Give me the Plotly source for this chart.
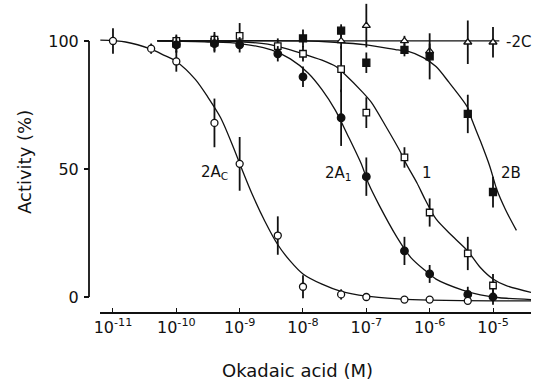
import plotly.graph_objects as go

# ---------------- data ----------------
# Okadaic acid concentration (M)
conc_2Ac = [1e-11, 4e-11, 1e-10, 4e-10, 1e-9, 4e-9, 1e-8, 4e-8, 1e-7, 4e-7, 1e-6, 4e-6]
act_2Ac = [100, 97, 92, 68, 52, 24, 4, 1, 0, -1, -1, -1.5]
err_2Ac = [5, 2, 4, 9.5, 10.5, 7.5, 4.5, 2, 0, 0, 0, 0]

conc_2A1 = [1e-10, 4e-10, 1e-9, 4e-9, 1e-8, 4e-8, 1e-7, 4e-7, 1e-6, 4e-6, 1e-5]
act_2A1 = [98.5, 99, 98.5, 95, 86, 70, 47, 18, 9, 1, 0]
err_2A1 = [3, 3, 3, 3, 4, 11, 7.5, 5.5, 3.5, 3, 3]

conc_1 = [1e-10, 4e-10, 1e-9, 4e-9, 1e-8, 4e-8, 1e-7, 4e-7, 1e-6, 4e-6, 1e-5]
act_1 = [100, 100.5, 102, 98, 95, 89, 72, 54.5, 33, 17, 4.5]
err_1 = [2, 2, 5, 3, 3, 9, 6, 4, 5.5, 6.5, 4.5]

conc_2B = [1e-10, 4e-10, 1e-8, 4e-8, 1e-7, 4e-7, 1e-6, 4e-6, 1e-5]
act_2B = [99, 99.5, 101, 104, 91.5, 96.5, 94, 71.5, 41]
err_2B = [3.5, 4, 3.5, 2.5, 4, 2.5, 9, 7.5, 6]

conc_2C = [4e-8, 1e-7, 4e-7, 1e-6, 4e-6, 1e-5]
act_2C = [100, 106, 100, 96, 99.5, 99.5]
err_2C = [3, 8.5, 2, 3, 8.5, 6]

# fitted curves as drawn (log10 M, activity %)
curve_2Ac_logM = [-11.2, -10.8, -10.4, -10.2, -10.0, -9.7, -9.5, -9.3, -9.1, -8.95, -8.8, -8.6,
                  -8.4, -8.2, -8.0, -7.7, -7.4, -7.0, -6.5, -6.0, -5.0, -4.4]
curve_2Ac_act = [100.3, 99.6, 96.8, 94.5, 92, 85, 78, 70, 58.5, 49, 40, 29.5,
                 20.5, 14, 9, 5, 2.2, 0.3, -0.7, -1.2, -1.5, -1.5]

curve_2A1_logM = [-10.3, -9.5, -9.0, -8.5, -8.2, -7.92, -7.7, -7.49, -7.3, -7.08, -6.96, -6.8,
                  -6.52, -6.3, -6.08, -5.9, -5.48, -5.2, -4.9, -4.4]
curve_2A1_act = [100, 99.6, 99, 96.5, 93, 87.5, 81, 73, 63.5, 52, 44, 36,
                 23.5, 15.5, 10.5, 7, 2.7, 0.8, -0.3, -1]

curve_1_logM = [-10.3, -9.0, -8.5, -8.0, -7.7, -7.48, -7.34, -7.06, -6.92, -6.7, -6.48, -6.37,
                -6.2, -6.07, -5.9, -5.65, -5.4, -5.2, -5.0, -4.8, -4.4]
curve_1_act = [100, 99.7, 98.5, 95, 92.5, 90, 87, 80, 76, 67, 57.5, 52,
               44.5, 38, 30.5, 24, 18, 11.5, 7, 4.5, 1.8]

curve_2B_logM = [-10.3, -8.0, -7.5, -7.0, -6.5, -6.35, -6.1, -5.9, -5.7, -5.4, -5.33, -5.2,
                 -5.05, -4.94, -4.8, -4.63]
curve_2B_act = [100, 100, 99.5, 98.5, 96.5, 96, 93.5, 90, 84, 74, 69, 61,
                51, 42, 34, 26]

curve_2C_logM = [-10.3, -4.9]
curve_2C_act = [100, 100]

x_tick_vals = [1e-11, 1e-10, 1e-9, 1e-8, 1e-7, 1e-6, 1e-5]
x_tick_text = ["10<sup>-11</sup>", "10<sup>-10</sup>", "10<sup>-9</sup>", "10<sup>-8</sup>",
               "10<sup>-7</sup>", "10<sup>-6</sup>", "10<sup>-5</sup>"]
y_tick_vals = [0, 50, 100]
y_tick_text = ["0", "50", "100"]

# ---------------- figure ----------------
W, H = 536, 381
ML, MR, MT, MB = 89, 5, 0, 69
PW, PH = W - ML - MR, H - MT - MB
FONT = "DejaVu Sans"
INK = "#111111"


def px(xp, yp):
    return (xp - ML) / PW, (H - MB - yp) / PH


fig = go.Figure()

for lx, ly in [(curve_2Ac_logM, curve_2Ac_act), (curve_2A1_logM, curve_2A1_act),
               (curve_1_logM, curve_1_act), (curve_2B_logM, curve_2B_act),
               (curve_2C_logM, curve_2C_act)]:
    fig.add_trace(go.Scatter(
        x=[10 ** v for v in lx], y=ly, mode="lines",
        line=dict(color=INK, width=1.3, shape="spline", smoothing=0.8),
        hoverinfo="skip", showlegend=False))

series = [
    ("2C", conc_2C, act_2C, err_2C, "triangle-up", "white", 7),
    ("2B", conc_2B, act_2B, err_2B, "square", INK, 7),
    ("1", conc_1, act_1, err_1, "square", "white", 6.5),
    ("2A1", conc_2A1, act_2A1, err_2A1, "circle", INK, 7.5),
    ("2Ac", conc_2Ac, act_2Ac, err_2Ac, "circle", "white", 7),
]
for name, cx, cy, ce, sym, fill, size in series:
    fig.add_trace(go.Scatter(
        x=cx, y=cy, mode="markers", name=name,
        marker=dict(symbol=sym, size=size, color=fill, line=dict(color=INK, width=1.3)),
        error_y=dict(type="data", array=ce, visible=True, color=INK, thickness=1.8, width=0),
        showlegend=False))

fig.update_layout(
    width=W, height=H, autosize=False,
    margin=dict(l=ML, r=MR, t=MT, b=MB, pad=0),
    paper_bgcolor="white", plot_bgcolor="white",
    font=dict(family=FONT, color=INK, size=15),
    xaxis=dict(type="log", domain=[11 / PW, 1], range=[-11.205, -4.4],
               showgrid=False, zeroline=False, showline=True, linecolor=INK, linewidth=1.5,
               ticks="inside", ticklen=4, tickwidth=1.2, tickcolor=INK,
               tickvals=x_tick_vals, ticktext=x_tick_text,
               tickfont=dict(family=FONT, size=16, color=INK)),
    yaxis=dict(range=[-5.86, 116], anchor="free", position=0,
               showgrid=False, zeroline=False, showline=False,
               ticks="outside", ticklen=5, tickwidth=1.5, tickcolor=INK,
               ticklabelstandoff=2,
               tickvals=y_tick_vals, ticktext=y_tick_text,
               tickfont=dict(family=FONT, size=16, color=INK)),
)

# y axis line spanning only 0..100
fig.add_shape(type="line", xref="paper", yref="y", x0=0, x1=0, y0=0, y1=100,
              line=dict(color=INK, width=1.8))

annos = [
    ("2A<sub>C</sub>", 214, 172),
    ("2A<sub>1</sub>", 338, 173),
    ("1", 427, 173),
    ("2B", 511, 173),
    ("-2C", 518, 42),
]
for text, xp, yp in annos:
    ax_, ay_ = px(xp, yp)
    fig.add_annotation(text=text, x=ax_, y=ay_, xref="paper", yref="paper",
                       xanchor="center", yanchor="middle",
                       showarrow=False, font=dict(family=FONT, size=15, color=INK))

tx, ty = px(297, 370)
fig.add_annotation(text="Okadaic acid (M)", x=tx, y=ty, xref="paper", yref="paper",
                   xanchor="center", yanchor="middle",
                   showarrow=False, font=dict(family=FONT, size=18, color=INK))
tx, ty = px(25, 162)
fig.add_annotation(text="Activity (%)", x=tx, y=ty, xref="paper", yref="paper",
                   xanchor="center", yanchor="middle",
                   showarrow=False, textangle=-90, font=dict(family=FONT, size=18, color=INK))

fig.write_html("out.html",
               config={"displayModeBar": False},
               post_script="document.body.style.margin='0px';document.body.style.padding='0px';")
